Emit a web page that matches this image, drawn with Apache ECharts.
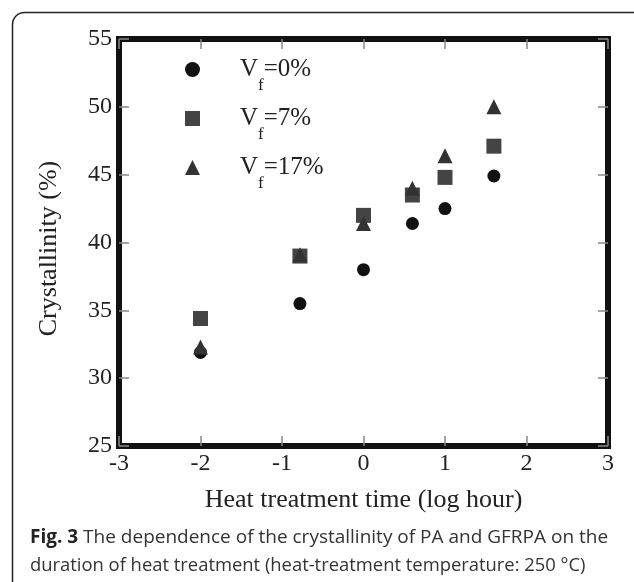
<!DOCTYPE html>
<html>
<head>
<meta charset="utf-8">
<script src="https://cdn.jsdelivr.net/npm/echarts@6/dist/echarts.min.js"></script>
<style>
  html, body { margin: 0; padding: 0; background: #fff; }
  #chart { width: 634px; height: 582px; }
</style>
</head>
<body>
<div id="chart"></div>
<script>
// heat treatment time (log hour)
const times = [-2, -0.78, 0, 0.6, 1, 1.6];
// crystallinity (%) per fibre volume fraction
const vf0 = [31.9, 35.5, 38.0, 41.4, 42.5, 44.9];
const vf7 = [34.4, 39.0, 42.0, 43.5, 44.8, 47.1];
const vf17 = [32.3, 39.1, 41.4, 44.0, 46.4, 50.0];
const seriesNames = ["Vf=0%", "Vf=7%", "Vf=17%"];
const symbols = ["circle", "rect", "triangle"];
const symbolSizes = [13, 15, 15];
const colors = ["#111111", "#444444", "#333333"];
const captionLines = [
  "The dependence of the crystallinity of PA and GFRPA on the",
  "duration of heat treatment (heat-treatment temperature: 250 °C)",
];

const serif = "Liberation Serif";
const myChart = echarts.init(document.getElementById("chart"));

const pairs = (ys) => times.map((t, i) => [t, ys[i]]);
const allData = [vf0, vf7, vf17];

const tickStyle = {
  show: true,
  inside: true,
  length: 10,
  lineStyle: { color: "#888", width: 1.5 },
};
const noLine = { show: false, onZero: false };

const option = {
  animation: false,
  backgroundColor: "#fff",
  grid: {
    left: 119,
    right: 26,
    top: 39,
    bottom: 136,
    show: true,
    borderWidth: 6,
    borderColor: "#111",
    backgroundColor: "transparent",
  },
  legend: {
    orient: "vertical",
    left: 185,
    top: 45,
    padding: 0,
    itemGap: 0,
    itemWidth: 15,
    itemHeight: 15,
    data: seriesNames.map((n, i) => ({ name: n, icon: symbols[i] })),
    formatter: (name) => {
      const rest = name.slice(2);
      // V, subscript f, then the value
      return "{v0|V}{s|f}{v|" + rest + "}";
    },
    textStyle: {
      color: "#222",
      rich: {
        v0: { fontFamily: serif, fontSize: 25, lineHeight: 26, padding: [0, 0, 0, 35], verticalAlign: "middle" },
        v: { fontFamily: serif, fontSize: 25, lineHeight: 26, verticalAlign: "middle" },
        s: { fontFamily: serif, fontSize: 17, lineHeight: 16, padding: [32, 0, 0, 0], verticalAlign: "middle" },
      },
    },
  },
  xAxis: [
    {
      type: "value",
      min: -3,
      max: 3,
      interval: 1,
      position: "bottom",
      name: "Heat treatment time (log hour)",
      nameLocation: "middle",
      nameGap: 41,
      nameTextStyle: { fontFamily: serif, fontSize: 26, color: "#222" },
      axisLine: noLine,
      axisTick: tickStyle,
      splitLine: { show: false },
      axisLabel: { fontFamily: serif, fontSize: 24, color: "#222", margin: 6 },
    },
    {
      type: "value",
      min: -3,
      max: 3,
      interval: 1,
      position: "top",
      axisLine: noLine,
      axisTick: tickStyle,
      splitLine: { show: false },
      axisLabel: { show: false },
    },
  ],
  yAxis: [
    {
      type: "value",
      min: 25,
      max: 55,
      interval: 5,
      position: "left",
      name: "Crystallinity (%)",
      nameLocation: "middle",
      nameGap: 57,
      nameTextStyle: { fontFamily: serif, fontSize: 26, color: "#222", padding: [0, 12, 0, 0] },
      axisLine: noLine,
      axisTick: tickStyle,
      splitLine: { show: false },
      axisLabel: { fontFamily: serif, fontSize: 24, color: "#222", margin: 7 },
    },
    {
      type: "value",
      min: 25,
      max: 55,
      interval: 5,
      position: "right",
      axisLine: noLine,
      axisTick: tickStyle,
      splitLine: { show: false },
      axisLabel: { show: false },
    },
  ],
  series: seriesNames.map((n, i) => ({
    name: n,
    type: "scatter",
    symbol: symbols[i],
    symbolSize: symbolSizes[i],
    itemStyle: { color: colors[i], opacity: 1 },
    data: pairs(allData[i]),
    z: 3 + i,
  })),
  graphic: [
    {
      type: "rect",
      shape: { x: 12.5, y: 12.5, width: 660, height: 620, r: 12 },
      style: { fill: "none", stroke: "#222", lineWidth: 1.5 },
      z: -1,
    },
    {
      type: "text",
      left: 30,
      top: 528,
      style: {
        text: "{b|Fig. 3} " + captionLines[0],
        font: "19px 'Open Sans'",
        fill: "#333",
        rich: {
          b: { fontFamily: "Open Sans", fontSize: 19, fontWeight: "bold", fill: "#222" },
        },
      },
    },
    {
      type: "text",
      left: 30,
      top: 557,
      style: {
        text: captionLines[1],
        font: "18.4px 'Open Sans'",
        fill: "#333",
      },
    },
  ],
};

myChart.setOption(option);
</script>
</body>
</html>
